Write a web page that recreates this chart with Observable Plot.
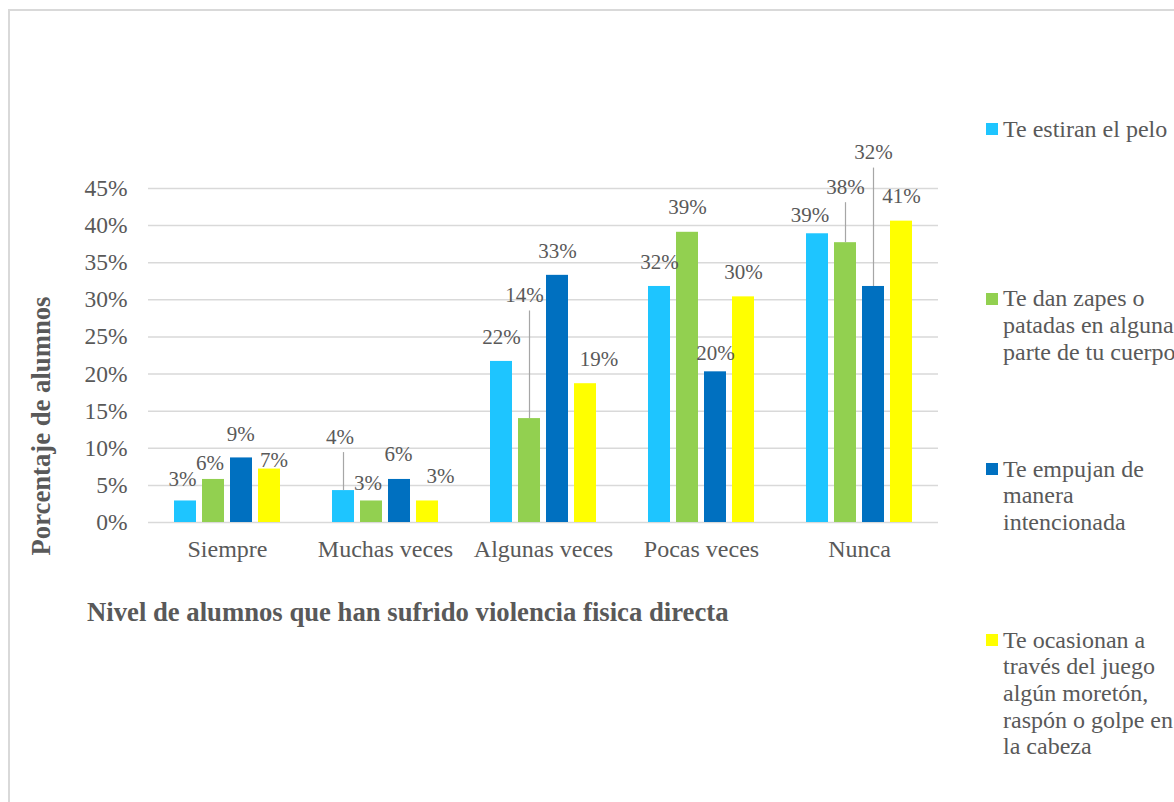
<!DOCTYPE html>
<html>
<head>
<meta charset="utf-8">
<script src="https://cdn.jsdelivr.net/npm/d3@7"></script>
<script src="https://cdn.jsdelivr.net/npm/@observablehq/plot@0.6"></script>
<style>
  html, body { margin: 0; padding: 0; background: #fff; }
  #root { position: relative; width: 1174px; height: 802px; overflow: hidden; background: #fff;
          font-family: "Liberation Serif", "Times New Roman", serif; color: #595959; }
  #frame { position: absolute; left: 8px; top: 9px; width: 1200px; height: 900px;
           border-left: 2px solid #d9d9d9; border-top: 2px solid #d9d9d9; }
  #chart { position: absolute; left: 0; top: 0; }
  .ytitle { position: absolute; left: 42px; top: 426px; transform: translate(-50%, -50%) rotate(-90deg);
            font-weight: bold; font-size: 26.7px; line-height: 29.5px; white-space: nowrap; }
  .xtitle { position: absolute; left: 87px; top: 598px; font-weight: bold; font-size: 26.7px;
            line-height: 29.5px; white-space: nowrap; }
  .leg { position: absolute; left: 986px; font-size: 24px; line-height: 26.7px; white-space: nowrap; }
  .leg .sw { position: absolute; left: 0; top: 7.5px; width: 12px; height: 12px; }
  .leg .tx { position: absolute; left: 17px; top: 0; }
</style>
</head>
<body>
<div id="root">
  <div id="frame"></div>
  <div id="chart"></div>
</div>
<script>
// ---- data ----
const categories = ["Siempre", "Muchas veces", "Algunas veces", "Pocas veces", "Nunca"];
const series = [
  "Te estiran el pelo",
  "Te dan zapes o patadas en alguna parte de tu cuerpo",
  "Te empujan de manera intencionada",
  "Te ocasionan a través del juego algún moretón, raspón o golpe en la cabeza"
];
const estiran  = [0.029, 0.043, 0.217, 0.318, 0.389];
const zapes    = [0.058, 0.029, 0.140, 0.391, 0.377];
const empujan  = [0.087, 0.058, 0.333, 0.203, 0.318];
const ocasionan = [0.072, 0.029, 0.187, 0.304, 0.406];
const yTicks = [0, 0.05, 0.10, 0.15, 0.20, 0.25, 0.30, 0.35, 0.40, 0.45];
const legendLines = [
  ["Te estiran el pelo"],
  ["Te dan zapes o", "patadas en alguna", "parte de tu cuerpo"],
  ["Te empujan de", "manera", "intencionada"],
  ["Te ocasionan a", "través del juego", "algún moretón,", "raspón o golpe en", "la cabeza"]
];

// ---- styles / placement (not data) ----
const colors = ["#1EC5FF", "#92D050", "#0070C0", "#FFFF00"];
const legendTops = [115.6, 285.3, 455.6, 626.6];
// label offsets [dx, dy] per series (rows) and category (cols), px from bar top
const labelOffsets = [
  [[-3, -14.7], [-3.5, -47], [0, -17.7], [0, -17.7], [-7.5, -12]],
  [[-3.5, -9], [-3.5, -10.7], [-5, -116.6], [0, -18], [0, -49]],
  [[-0.7, -16.6], [-1, -18], [0, -17.7], [0, -12], [0, -127.4]],
  [[4.5, -2], [13, -17.7], [13.5, -17.3], [0, -17.7], [0, -17.7]]
];
// leader lines: [seriesIndex, categoryIndex]
const leaders = [[0, 1], [1, 2], [1, 4], [2, 4]];

const valuesBySeries = [estiran, zapes, empujan, ocasionan];
const table = [];
series.forEach((s, si) => categories.forEach((c, ci) => {
  table.push({cat: c, series: s, value: valuesBySeries[si][ci], si, ci});
}));

const W = 960, H = 640, mT = 188, mB = 118, mL = 146, mR = 20;
const k = (H - mT - mB) / 0.45; // px per unit
const fmt = d3.format(".0%");
const textColor = "#595959";

const labelMarks = table.map(d => {
  const [dx, dy] = labelOffsets[d.si][d.ci];
  return Plot.text([d], {fx: "cat", x: "series", y: "value", text: r => fmt(r.value),
    dx, dy, lineAnchor: "bottom", textAnchor: "middle", fontSize: 21, fill: textColor});
});
const leaderMarks = leaders.map(([si, ci]) => {
  const d = table.find(r => r.si === si && r.ci === ci);
  const len = -labelOffsets[si][ci][1] - 9;
  return Plot.ruleX([d], {fx: "cat", x: "series", y1: "value", y2: r => r.value + len / k,
    stroke: "#a6a6a6", strokeWidth: 1.2});
});

const chart = Plot.plot({
  width: W, height: H,
  marginTop: mT, marginBottom: mB, marginLeft: mL, marginRight: mR,
  style: {fontFamily: '"Liberation Serif", "Times New Roman", serif', color: textColor, background: "transparent"},
  fx: {domain: categories, padding: 0, label: null},
  x: {domain: series, paddingInner: 0.22, paddingOuter: 0.85, axis: null},
  y: {domain: [0, 0.45], label: null},
  color: {domain: series, range: colors},
  marks: [
    Plot.gridY(yTicks, {stroke: "#d9d9d9", strokeOpacity: 1, strokeWidth: 1.5}),
    Plot.axisY({ticks: yTicks, tickFormat: fmt, tickSize: 0, tickPadding: 21, fontSize: 23.5, label: null}),
    Plot.axisFx({anchor: "bottom", tickSize: 0, tickPadding: 17, fontSize: 24, label: null}),
    Plot.barY(table, {fx: "cat", x: "series", y: "value", fill: "series"}),
    ...leaderMarks,
    ...labelMarks
  ]
});
document.getElementById("chart").appendChild(chart);

const root = document.getElementById("root");
const yt = document.createElement("div");
yt.className = "ytitle"; yt.textContent = "Porcentaje de alumnos";
root.appendChild(yt);
const xt = document.createElement("div");
xt.className = "xtitle"; xt.textContent = "Nivel de alumnos que han sufrido violencia fisica directa";
root.appendChild(xt);

legendLines.forEach((lines, i) => {
  const item = document.createElement("div");
  item.className = "leg";
  item.style.top = legendTops[i] + "px";
  const sw = document.createElement("div");
  sw.className = "sw"; sw.style.background = colors[i];
  const tx = document.createElement("div");
  tx.className = "tx";
  lines.forEach((ln, j) => {
    if (j) tx.appendChild(document.createElement("br"));
    tx.appendChild(document.createTextNode(ln));
  });
  item.appendChild(sw); item.appendChild(tx);
  root.appendChild(item);
});
</script>
</body>
</html>
